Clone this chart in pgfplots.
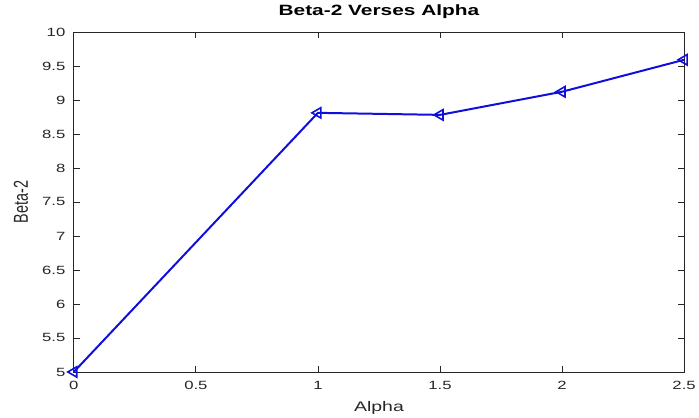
\documentclass[border=0pt]{standalone}
\usepackage{pgfplots}
\pgfplotsset{compat=1.18}
\usepackage{fontspec}
\setmainfont{Liberation Sans}[FakeStretch=1.4]
\newfontfamily\plainsans{Liberation Sans}
\definecolor{linecol}{RGB}{15,15,220}
\definecolor{axcol}{RGB}{38,38,38}

\begin{document}
\begin{tikzpicture}
\begin{axis}[
  scale only axis,
  width=612bp, height=341bp,
  xmin=0, xmax=2.5, ymin=5, ymax=10,
  xtick={0,0.5,1,1.5,2,2.5},
  ytick={5,5.5,6,6.5,7,7.5,8,8.5,9,9.5,10},
  tick align=inside,
  major tick length=6bp,
  axis line style={axcol, line width=0.8bp},
  every tick/.style={axcol, line width=0.8bp},
  /pgf/number format/assume math mode=true,
  ticklabel style={font=\fontsize{12}{14}\selectfont, text=axcol},
  xticklabel style={yshift=-6bp},
  yticklabel style={xshift=-5bp},
  title={Beta-2 Verses Alpha},
  title style={font=\fontsize{15}{17}\selectfont\bfseries, text=black,
    at={(axis description cs:0.5,1.041)}, anchor=center},
  xlabel={Alpha},
  xlabel style={font=\fontsize{14}{16}\selectfont, text=axcol,
    at={(axis description cs:0.5,-0.1056)}, anchor=center},
  ylabel={Beta-2},
  ylabel style={font=\plainsans\fontsize{14.5}{16}\selectfont, text=axcol,
    at={(axis description cs:-0.0866,0.5)}, anchor=center, rotate=0, yscale=1.4},
]
\addplot[color=linecol, line width=2bp,
  mark=triangle, mark size=6bp,
  mark options={rotate=90, solid, line width=1.6bp, fill=none}]
  coordinates {
    (0,5.00)
    (1,8.81)
    (1.5,8.78)
    (2,9.12)
    (2.5,9.59)
  };
\end{axis}
\useasboundingbox (-74bp,-43bp) rectangle (625bp,373bp);
\end{tikzpicture}
\end{document}
